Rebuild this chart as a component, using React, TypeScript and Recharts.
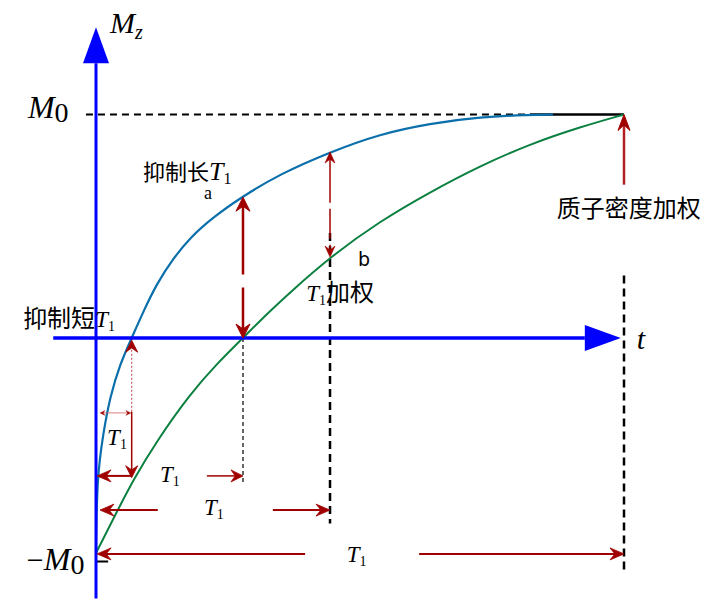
import { LineChart, Line, XAxis, YAxis, ReferenceLine, ReferenceDot } from 'recharts';

// time: 0 = inversion, 100 = full recovery (proton density point); Mz in units of M0
const blueT = [0, 0.19, 1.38, 2.65, 4.55, 6.76, 8.96, 11.5, 14.64, 17.8, 22.22, 27.6, 34.85, 44.32, 53.79, 63.26, 72.73, 82.2, 86.55];
const blueMz = [-0.962, -0.622, -0.425, -0.264, -0.116, 0, 0.118, 0.243, 0.356, 0.449, 0.541, 0.631, 0.734, 0.832, 0.913, 0.96, 0.989, 0.999, 1.0];

const greenT = [0, 3.92, 7.06, 11.5, 17.8, 22.86, 27.84, 32.33, 36.74, 44.32, 53.79, 63.26, 72.73, 82.2, 91.67, 100];
const greenMz = [-0.962, -0.779, -0.635, -0.461, -0.251, -0.116, 0, 0.107, 0.204, 0.362, 0.523, 0.653, 0.77, 0.868, 0.944, 1.0];

// red dimension / signal arrows (tail -> head)
const arrows = [
  { t1: 6.76, mz1: -0.33, t2: 6.76, mz2: -0.01, kind: 'faint', heads: 'end' },
  { t1: 6.76, mz1: -0.33, t2: 6.76, mz2: -0.625, kind: 'thin', heads: 'end' },
  { t1: 0.76, mz1: -0.335, t2: 6.6, mz2: -0.335, kind: 'tiny', heads: 'both' },
  { t1: 6.76, mz1: -0.617, t2: 0.2, mz2: -0.617, kind: 'mid', heads: 'end' },
  { t1: 21, mz1: -0.617, t2: 27.84, mz2: -0.617, kind: 'thin', heads: 'end' },
  { t1: 11.7, mz1: -0.77, t2: 0.76, mz2: -0.77, kind: 'mid', heads: 'end' },
  { t1: 33.5, mz1: -0.77, t2: 44.32, mz2: -0.77, kind: 'mid', heads: 'end' },
  { t1: 39.6, mz1: -0.966, t2: 0.2, mz2: -0.966, kind: 'mid', heads: 'end' },
  { t1: 61.2, mz1: -0.966, t2: 100, mz2: -0.966, kind: 'mid', heads: 'end' },
  { t1: 27.84, mz1: 0.63, t2: 27.84, mz2: 0.0, kind: 'bold', heads: 'both' },
  { t1: 44.32, mz1: 0.832, t2: 44.32, mz2: 0.362, kind: 'thinDash', heads: 'both' },
  { t1: 100, mz1: 0.686, t2: 100, mz2: 1.0, kind: 'pd', heads: 'end' },
];

// black guide lines
const guides = [
  { t1: -1.9, mz1: 1, t2: 82.2, mz2: 1, kind: 'm0dash' },
  { t1: 82.2, mz1: 1, t2: 100, mz2: 1, kind: 'm0solid' },
  { t1: 27.84, mz1: 0, t2: 27.84, mz2: -0.658, kind: 'fine' },
  { t1: 44.32, mz1: 0.47, t2: 44.32, mz2: -0.83, kind: 'heavy' },
  { t1: 100, mz1: 0.28, t2: 100, mz2: -1.04, kind: 'heavy' },
  { t1: 0, mz1: -1, t2: 2.3, mz2: -1, kind: 'tick' },
];

// blue coordinate axes
const axes = [
  { t1: 0, mz1: -1.165, t2: 0, mz2: 1.39, width: 3 },
  { t1: -8.1, mz1: 0, t2: 99.4, mz2: 0, width: 3.5 },
];

const labels = [
  { t: 2.65, mz: 1.365, anchor: 'start', parts: [['M', 'math'], ['z', 'mathSub']] },
  { t: -12.9, mz: 0.984, anchor: 'start', parts: [['M', 'mathBig'], ['0', 'mathIdx']] },
  { t: -13.1, mz: -1.038, anchor: 'start', parts: [['−', 'minus'], ['M', 'mathBig'], ['0', 'mathIdx']] },
  { t: 102.4, mz: -0.05, anchor: 'start', parts: [['t', 'math']] },
  { t: 8.9, mz: 0.707, anchor: 'start', parts: [['抑制长', 'cjk'], ['T', 't1Big'], ['1', 't1BigSub']] },
  { t: 21.2, mz: 0.622, anchor: 'middle', parts: [['a', 'roman']] },
  { t: 49.6, mz: 0.322, anchor: 'start', parts: [['b', 'sans']] },
  { t: 39.8, mz: 0.165, anchor: 'start', parts: [['T', 't1'], ['1', 't1Sub'], ['加权', 'cjkMid']] },
  { t: -13.8, mz: 0.049, anchor: 'start', parts: [['抑制短', 'cjkMid'], ['T', 't1'], ['1', 't1Sub']] },
  { t: 100.9, mz: 0.541, anchor: 'middle', parts: [['质子密度加权', 'cjkLarge']] },
  { t: 2.1, mz: -0.479, anchor: 'start', parts: [['T', 't1'], ['1', 't1Sub']] },
  { t: 12.1, mz: -0.644, anchor: 'start', parts: [['T', 't1'], ['1', 't1Sub']] },
  { t: 20.45, mz: -0.792, anchor: 'start', parts: [['T', 't1'], ['1', 't1Sub']] },
  { t: 47.5, mz: -1.0, anchor: 'start', parts: [['T', 't1'], ['1', 't1Sub']] },
];

const SERIF = "'Liberation Serif', 'DejaVu Serif', serif";
const CJK = "'Noto Sans CJK SC', sans-serif";
const SANS = "'DejaVu Sans', sans-serif";
const RED = '#a00000';

const TEXT_STYLE: Record<string, any> = {
  math: { family: SERIF, size: 30, italic: true },
  mathBig: { family: SERIF, size: 32, italic: true },
  mathSub: { family: SERIF, size: 20, italic: true, shift: 6 },
  mathIdx: { family: SERIF, size: 28, shift: 4 },
  minus: { family: SERIF, size: 30 },
  cjk: { family: CJK, size: 22 },
  cjkMid: { family: CJK, size: 24 },
  cjkLarge: { family: CJK, size: 24 },
  t1: { family: SERIF, size: 23, italic: true },
  t1Sub: { family: SERIF, size: 14, shift: 4 },
  t1Big: { family: SERIF, size: 26, italic: true },
  t1BigSub: { family: SERIF, size: 16, shift: 4 },
  roman: { family: SERIF, size: 18 },
  sans: { family: SANS, size: 19 },
};

const ARROW_STYLE: Record<string, any> = {
  faint: { color: '#c84040', width: 1, dash: '2 2', head: 12, half: 6, headWidth: 2 },
  thin: { color: RED, width: 1.5, head: 12, half: 6, headWidth: 2 },
  tiny: { color: '#d06060', width: 0.8, head: 5, half: 2.5, headWidth: 0.8 },
  mid: { color: RED, width: 2, head: 14, half: 6, headWidth: 2 },
  bold: { color: RED, width: 2.5, dash: '69 13 200', head: 14, half: 7, headWidth: 2.5 },
  thinDash: { color: RED, width: 1.5, dash: '44 6 30 6', head: 11, half: 5, headWidth: 1.5 },
  pd: { color: '#b02020', width: 2.5, head: 16, half: 6, headWidth: 2.5 },
};

const GUIDE_STYLE: Record<string, any> = {
  m0dash: { width: 2, dash: '7 5' },
  m0solid: { width: 2.5 },
  fine: { width: 1.2, dash: '4 3' },
  heavy: { width: 2.5, dash: '8 5' },
  tick: { width: 2 },
};

const blueData = blueT.map((t, i) => ({ t, mz: blueMz[i] }));
const greenData = greenT.map((t, i) => ({ t, mz: greenMz[i] }));

function headPoints(x: number, y: number, a: number, len: number, half: number) {
  const c = Math.cos(a);
  const s = Math.sin(a);
  const bx = x - len * c;
  const by = y - len * s;
  const nx = x - len * 0.65 * c;
  const ny = y - len * 0.65 * s;
  return `${x},${y} ${bx - half * s},${by + half * c} ${nx},${ny} ${bx + half * s},${by - half * c}`;
}

const redArrow = (kind: string, heads: string) => (p: any) => {
  const st = ARROW_STYLE[kind];
  const { x1, y1, x2, y2 } = p;
  const a = Math.atan2(y2 - y1, x2 - x1);
  const cut = st.head * 0.6;
  const sx1 = heads === 'both' ? x1 + cut * Math.cos(a) : x1;
  const sy1 = heads === 'both' ? y1 + cut * Math.sin(a) : y1;
  const sx2 = x2 - cut * Math.cos(a);
  const sy2 = y2 - cut * Math.sin(a);
  return (
    <g>
      <line x1={sx1} y1={sy1} x2={sx2} y2={sy2} stroke={st.color} strokeWidth={st.width} strokeDasharray={st.dash} />
      <polygon points={headPoints(x2, y2, a, st.head, st.half)} fill={RED} stroke={RED} strokeWidth={st.headWidth * 0.4} strokeLinejoin="round" />
      {heads === 'both' && (
        <polygon points={headPoints(x1, y1, a + Math.PI, st.head, st.half)} fill={RED} stroke={RED} strokeWidth={st.headWidth * 0.4} strokeLinejoin="round" />
      )}
    </g>
  );
};

const blueAxis = (width: number) => (p: any) => {
  const { x1, y1, x2, y2 } = p;
  const a = Math.atan2(y2 - y1, x2 - x1);
  const len = 36;
  const half = 13;
  const c = Math.cos(a);
  const s = Math.sin(a);
  const bx = x2 - len * c;
  const by = y2 - len * s;
  return (
    <g>
      <line x1={x1} y1={y1} x2={bx} y2={by} stroke="#0000ff" strokeWidth={width} />
      <polygon points={`${x2},${y2} ${bx - half * s},${by + half * c} ${bx + half * s},${by - half * c}`} fill="#0000ff" />
    </g>
  );
};

function RichText({ x, y, anchor, parts }: any) {
  let cur = 0;
  return (
    <text x={x} y={y} textAnchor={anchor}>
      {parts.map(([str, k]: [string, string], i: number) => {
        const st = TEXT_STYLE[k];
        const shift = st.shift ?? 0;
        const dy = shift - cur;
        cur = shift;
        return (
          <tspan key={i} dy={dy} fontFamily={st.family} fontSize={st.size} fontStyle={st.italic ? 'italic' : 'normal'} fill="#000">
            {str}
          </tspan>
        );
      })}
    </text>
  );
}

export default function App() {
  return (
    <div style={{ position: 'absolute', left: 0, top: 0, width: 715, height: 605, background: '#fff' }}>
      <LineChart width={715} height={605} margin={{ top: 13.93, right: 11.8, bottom: 5.5, left: 16.8 }}>
        <XAxis type="number" dataKey="t" domain={[-15, 115]} allowDataOverflow hide />
        <YAxis type="number" dataKey="mz" domain={[-1.17, 1.45]} allowDataOverflow hide />

        {guides.map((g, i) => {
          const st = GUIDE_STYLE[g.kind];
          return (
            <ReferenceLine
              key={`g${i}`}
              segment={[{ x: g.t1, y: g.mz1 }, { x: g.t2, y: g.mz2 }]}
              stroke="#000"
              strokeWidth={st.width}
              strokeDasharray={st.dash}
              ifOverflow="visible"
            />
          );
        })}

        <Line data={blueData} dataKey="mz" type="basis" stroke="#0a6fab" strokeWidth={2.2} dot={false} activeDot={false} isAnimationActive={false} />
        <Line data={greenData} dataKey="mz" type="basis" stroke="#0b8040" strokeWidth={2} dot={false} activeDot={false} isAnimationActive={false} />

        {axes.map((a, i) => (
          <ReferenceLine
            key={`ax${i}`}
            segment={[{ x: a.t1, y: a.mz1 }, { x: a.t2, y: a.mz2 }]}
            ifOverflow="visible"
            shape={blueAxis(a.width)}
          />
        ))}

        {arrows.map((a, i) => (
          <ReferenceLine
            key={`ar${i}`}
            segment={[{ x: a.t1, y: a.mz1 }, { x: a.t2, y: a.mz2 }]}
            ifOverflow="visible"
            shape={redArrow(a.kind, a.heads)}
          />
        ))}

        {labels.map((l, i) => (
          <ReferenceDot
            key={`l${i}`}
            x={l.t}
            y={l.mz}
            r={0}
            ifOverflow="visible"
            shape={(p: any) => <RichText x={p.cx} y={p.cy} anchor={l.anchor} parts={l.parts} />}
          />
        ))}
      </LineChart>
    </div>
  );
}
